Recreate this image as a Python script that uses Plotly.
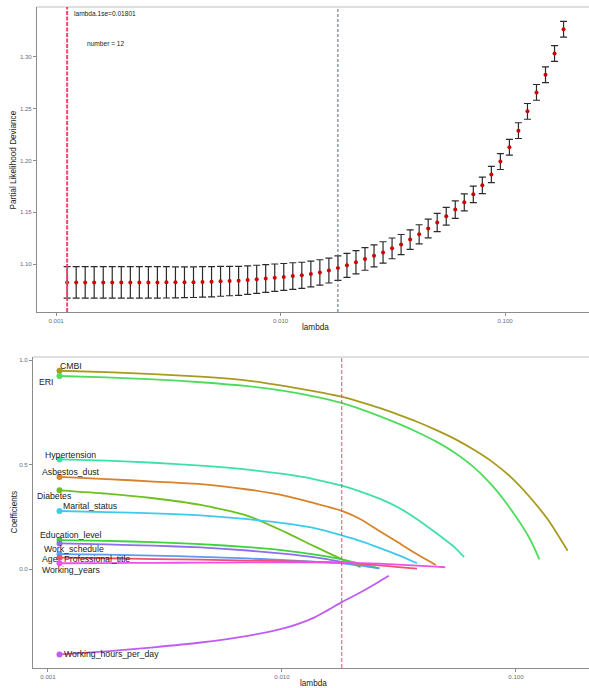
import math
import plotly.graph_objects as go

# ---- cross-validation curve (cv.glmnet style) ----
lambdas = [
    0.001120, 0.001229, 0.001348, 0.001478, 0.001622, 0.001779, 0.001952, 0.002142,
    0.002349, 0.002577, 0.002827, 0.003101, 0.003402, 0.003732, 0.004094, 0.004491,
    0.004927, 0.005404, 0.005929, 0.006504, 0.007135, 0.007828, 0.008587, 0.009420,
    0.010334, 0.011337, 0.012436, 0.013643, 0.014966, 0.016418, 0.018010, 0.019757,
    0.021674, 0.023776, 0.026082, 0.028612, 0.031387, 0.034432, 0.037772, 0.041436,
    0.045454, 0.049864, 0.054701, 0.060007, 0.065828, 0.072213, 0.079218, 0.086903,
    0.095332, 0.104580, 0.114724, 0.125853, 0.138060, 0.151452, 0.166143, 0.182260,
]
deviance = [
    1.0823, 1.0823, 1.0823, 1.0823, 1.0823, 1.0823, 1.0823, 1.0823,
    1.0823, 1.0823, 1.0823, 1.0824, 1.0824, 1.0825, 1.0826, 1.0828,
    1.0830, 1.0834, 1.0837, 1.0839, 1.0846, 1.0853, 1.0861, 1.0869,
    1.0876, 1.0885, 1.0892, 1.0905, 1.0920, 1.0938, 1.0962, 1.0988,
    1.1018, 1.1050, 1.1080, 1.1113, 1.1152, 1.1189, 1.1237, 1.1288,
    1.1344, 1.1402, 1.1462, 1.1526, 1.1596, 1.1673, 1.1760, 1.1865,
    1.1990, 1.2128, 1.2288, 1.2474, 1.2657, 1.2827, 1.3032, 1.3266,
]
deviance_se = [
    0.0152, 0.0152, 0.0152, 0.0152, 0.0152, 0.0152, 0.0152, 0.0152,
    0.0152, 0.0152, 0.0152, 0.0151, 0.0150, 0.0149, 0.0148, 0.0147,
    0.0146, 0.0144, 0.0142, 0.0140, 0.0138, 0.0136, 0.0134, 0.0132,
    0.0130, 0.0128, 0.0126, 0.0124, 0.0122, 0.0120, 0.0118, 0.0115,
    0.0112, 0.0109, 0.0106, 0.0103, 0.0100, 0.0097, 0.0094, 0.0092,
    0.0090, 0.0088, 0.0086, 0.0084, 0.0082, 0.0080, 0.0079, 0.0078,
    0.0077, 0.0076, 0.0076, 0.0076, 0.0076, 0.0076, 0.0076, 0.0076,
]
lambda_min = 0.001120
lambda_1se = 0.01801
n_selected = 12

# ---- coefficient paths (indices into `lambdas`) ----
variables = ["CMBI", "ERI", "Hypertension", "Asbestos_dust", "Diabetes", "Marital_status",
             "Education_level", "Work_schedule", "Age", "Professional_title",
             "Working_years", "Working_hours_per_day"]

cmbi_idx = [0, 5, 10, 15, 20, 24, 27, 30, 32, 34, 36, 38, 40, 42, 44, 46, 48, 50, 52, 54]
cmbi_coef = [0.950, 0.943, 0.934, 0.922, 0.903, 0.876, 0.853, 0.826, 0.800, 0.772,
             0.740, 0.706, 0.667, 0.624, 0.573, 0.514, 0.440, 0.345, 0.232, 0.089]
eri_idx = [0, 5, 10, 15, 20, 24, 27, 30, 32, 34, 36, 38, 40, 42, 44, 46, 48, 50, 51]
eri_coef = [0.925, 0.918, 0.909, 0.895, 0.876, 0.853, 0.828, 0.796, 0.766, 0.733,
            0.697, 0.657, 0.612, 0.558, 0.490, 0.400, 0.285, 0.145, 0.048]
hyper_idx = [0, 5, 10, 15, 20, 24, 27, 30, 32, 34, 36, 38, 40, 42, 43]
hyper_coef = [0.526, 0.520, 0.510, 0.496, 0.477, 0.455, 0.432, 0.400, 0.372, 0.338,
              0.296, 0.240, 0.175, 0.105, 0.058]
asbestos_idx = [0, 5, 10, 15, 20, 24, 27, 30, 32, 34, 36, 38, 40]
asbestos_coef = [0.442, 0.432, 0.420, 0.408, 0.382, 0.352, 0.318, 0.280, 0.240, 0.183,
                 0.128, 0.072, 0.021]
diabetes_idx = [0, 5, 10, 15, 20, 24, 27, 30, 32]
diabetes_coef = [0.378, 0.362, 0.340, 0.308, 0.256, 0.178, 0.112, 0.048, 0.010]
marital_idx = [0, 5, 10, 15, 20, 24, 27, 30, 32, 34, 36, 38]
marital_coef = [0.279, 0.274, 0.268, 0.258, 0.240, 0.220, 0.198, 0.162, 0.135, 0.103,
                0.068, 0.029]
education_idx = [0, 5, 10, 15, 20, 24, 27, 30, 32, 34]
education_coef = [0.140, 0.136, 0.130, 0.121, 0.106, 0.090, 0.072, 0.048, 0.026, 0.005]
schedule_idx = [0, 5, 10, 15, 20, 24, 27, 30, 32]
schedule_coef = [0.124, 0.119, 0.113, 0.105, 0.090, 0.074, 0.058, 0.036, 0.018]
age_idx = [0, 5, 10, 15, 20, 24, 27, 30, 32, 34]
age_coef = [0.073, 0.070, 0.066, 0.060, 0.052, 0.044, 0.037, 0.029, 0.018, 0.005]
title_idx = [0, 5, 10, 15, 20, 24, 27, 30, 32, 34, 36, 38]
title_coef = [0.056, 0.053, 0.049, 0.046, 0.042, 0.039, 0.036, 0.032, 0.026, 0.019,
              0.011, 0.003]
years_idx = [0, 5, 10, 15, 20, 24, 27, 30, 32, 34, 36, 38, 40, 41]
years_coef = [0.029, 0.030, 0.031, 0.032, 0.033, 0.033, 0.033, 0.032, 0.030, 0.027,
              0.023, 0.018, 0.013, 0.010]
hours_idx = [0, 5, 10, 15, 20, 24, 27, 30, 32, 34, 35]
hours_coef = [-0.407, -0.392, -0.373, -0.350, -0.318, -0.280, -0.232, -0.157, -0.110,
              -0.058, -0.031]

path_idx = [cmbi_idx, eri_idx, hyper_idx, asbestos_idx, diabetes_idx, marital_idx,
            education_idx, schedule_idx, age_idx, title_idx, years_idx, hours_idx]
path_coef = [cmbi_coef, eri_coef, hyper_coef, asbestos_coef, diabetes_coef, marital_coef,
             education_coef, schedule_coef, age_coef, title_coef, years_coef, hours_coef]

colors = ["#A89A1E", "#4FDC5C", "#3FE0A8", "#D9822B", "#6CC11F", "#3DCBEB",
          "#3CD33C", "#8B6FF0", "#5A9CF2", "#F2506E", "#F050E8", "#C05CF2"]

# label placement: (anchor, xshift px, yshift px) relative to the path start
label_style = {
    "CMBI": ("left", -1, 5),
    "ERI": ("right", -4, -6),
    "Hypertension": ("left", -16, 4),
    "Asbestos_dust": ("left", -19, 5),
    "Diabetes": ("left", -24, -6),
    "Marital_status": ("left", 2, 5),
    "Education_level": ("left", -21, 5),
    "Work_schedule": ("left", -17, -6),
    "Age": ("left", -19, -5),
    "Professional_title": ("left", 3, -1),
    "Working_years": ("left", -19, -7),
    "Working_hours_per_day": ("left", 3, 0),
}

W, H = 589, 688
FONT = "Liberation Sans, Arial, sans-serif"
TICK_COLOR = "#5f6f7f"
AXIS_COLOR = "#8c8c8c"


def px(x):
    return x / W


def py(y):
    return 1 - y / H


fig = go.Figure()

# CV error bars + mean deviance
fig.add_trace(go.Scatter(
    x=lambdas, y=deviance, mode="markers",
    marker=dict(color="#D00000", size=4),
    error_y=dict(type="data", array=deviance_se, color="#2b2b2b", thickness=1.2, width=3.5),
    xaxis="x", yaxis="y", hoverinfo="x+y",
))

# coefficient paths
annotations = []
for name, idx, coef, col in zip(variables, path_idx, path_coef, colors):
    lam = [lambdas[i] for i in idx]
    fig.add_trace(go.Scatter(
        x=lam, y=coef, mode="lines",
        line=dict(color=col, width=1.8, shape="spline", smoothing=0.6),
        xaxis="x2", yaxis="y2", name=name,
    ))
    fig.add_trace(go.Scatter(
        x=[lam[0]], y=[coef[0]], mode="markers",
        marker=dict(color=col, size=6),
        xaxis="x2", yaxis="y2", name=name, hoverinfo="skip",
    ))
    anchor, dx, dy = label_style[name]
    # annotations on a log axis are positioned in log10 units
    annotations.append(dict(
        x=math.log10(lam[0]), y=coef[0], xref="x2", yref="y2", text=name, showarrow=False,
        xanchor=anchor, yanchor="middle", xshift=dx, yshift=dy,
        font=dict(family=FONT, size=8.7, color="#1a1a1a"),
    ))

# text in the CV panel
annotations += [
    dict(x=px(72), y=py(13.5), xref="paper", yref="paper", showarrow=False,
         text=f"lambda.1se={lambda_1se}", xanchor="left", yanchor="middle",
         font=dict(family=FONT, size=6.6, color="#1a1a1a")),
    dict(x=px(85), y=py(43.5), xref="paper", yref="paper", showarrow=False,
         text=f"number = {n_selected}", xanchor="left", yanchor="middle",
         font=dict(family=FONT, size=6.6, color="#1a1a1a")),
]

# axis titles
title_font = dict(family=FONT, size=8.2, color="#1a1a1a")
axis_titles = [
    ("Partial Likelihood Deviance", 13.5, 160, -90),
    ("lambda", 315, 327, 0),
    ("Coefficients", 13.5, 512, -90),
    ("lambda", 313, 683, 0),
]
for text, tx, ty, angle in axis_titles:
    annotations.append(dict(x=px(tx), y=py(ty), xref="paper", yref="paper", showarrow=False,
                            text=text, textangle=angle, xanchor="center", yanchor="middle",
                            font=title_font))

shapes = [
    # panel top borders
    dict(type="line", xref="x domain", yref="y domain", x0=0, x1=1, y0=1, y1=1,
         line=dict(color="#d4d4d4", width=1.5)),
    dict(type="line", xref="x2 domain", yref="y2 domain", x0=0, x1=1, y0=1, y1=1,
         line=dict(color="#d4d4d4", width=1.5)),
    # selected lambdas
    dict(type="line", xref="x", yref="y domain", x0=lambda_min, x1=lambda_min, y0=0, y1=1,
         line=dict(color="#F2466E", width=2, dash="4px,1.5px")),
    dict(type="line", xref="x", yref="y domain", x0=lambda_1se, x1=lambda_1se, y0=0, y1=1,
         line=dict(color="#56636e", width=1, dash="3px,2px")),
    dict(type="line", xref="x2", yref="y2 domain", x0=lambda_1se, x1=lambda_1se, y0=0, y1=1,
         line=dict(color="#E8506A", width=1, dash="4px,2px")),
]

tick_font = dict(family=FONT, size=6.1, color=TICK_COLOR)
x_ticks = dict(tickvals=[0.001, 0.01, 0.1], ticktext=["0.001", "0.010", "0.100"])
common_axis = dict(showline=True, linecolor=AXIS_COLOR, linewidth=1, showgrid=False,
                   zeroline=False, ticks="outside", ticklen=3, tickcolor=AXIS_COLOR,
                   tickfont=tick_font)

fig.update_layout(
    width=W, height=H,
    margin=dict(l=0, r=0, t=0, b=0),
    paper_bgcolor="white", plot_bgcolor="white",
    showlegend=False,
    xaxis=dict(type="log", domain=[px(37), 1], range=[-3.085, -0.626], anchor="y",
               **x_ticks, **common_axis),
    yaxis=dict(domain=[py(312), py(7)], range=[1.0538, 1.3481], anchor="x",
               tickvals=[1.10, 1.15, 1.20, 1.25, 1.30],
               ticktext=["1.10", "1.15", "1.20", "1.25", "1.30"], **common_axis),
    xaxis2=dict(type="log", domain=[px(33), 1], range=[-3.064, -0.688], anchor="y2",
                **x_ticks, **common_axis),
    yaxis2=dict(domain=[py(668), py(357)], range=[-0.472, 1.0158], anchor="x2",
                tickvals=[0.0, 0.5, 1.0], ticktext=["0.0", "0.5", "1.0"], **common_axis),
    annotations=annotations,
    shapes=shapes,
)

fig.write_html("out.html")
